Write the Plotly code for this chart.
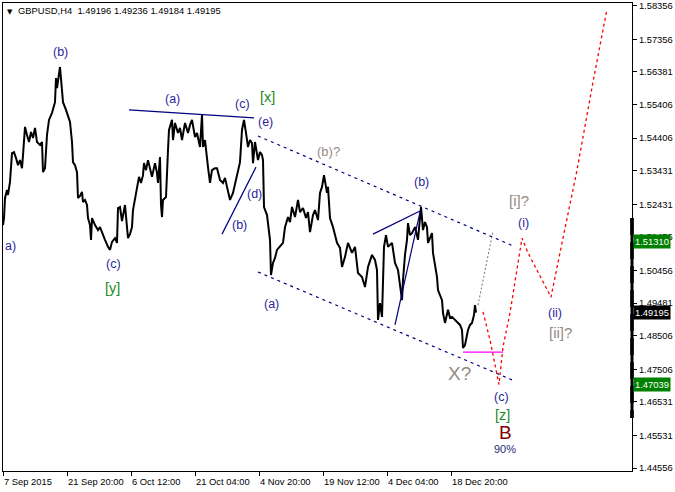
import plotly.graph_objects as go

# ---------------- data ----------------
bar_index = [0, 1, 2, 4, 5, 7, 9, 11, 13, 15, 17, 19, 20, 22, 24, 26, 28, 30, 32, 34, 37, 39, 40, 42, 44, 46, 49, 52, 53, 54,
             57, 59, 60, 63, 65, 67, 69, 70, 72, 74, 75, 77, 79, 80, 82, 84, 85, 87, 88, 89, 92, 95, 97, 99, 102, 105, 107, 109,
             112, 114, 115, 117, 119, 122, 124, 125, 127, 129, 130, 132, 134, 136, 138, 140, 141, 143, 145, 147, 149, 152, 154,
             155, 157, 158, 159, 160, 163, 165, 166, 169, 170, 172, 175, 177, 179, 182, 185, 187, 189, 192, 194, 197, 199, 200,
             202, 205, 207, 209, 212, 214, 217, 220, 222, 224, 227, 230, 232, 234, 237, 239, 241, 243, 245, 247, 249, 250, 252,
             255, 257, 259, 260, 261, 264, 267, 268, 270, 272, 274, 277, 280, 282, 285, 287, 289, 292, 295, 297, 300, 303, 305,
             307, 310, 312, 315, 317, 319, 321, 323, 324, 325, 327, 330, 332, 334, 337, 339, 342, 345, 347, 349, 352, 355, 359,
             362, 365, 369, 372, 374, 375, 377, 379, 381, 383, 385, 389, 392, 395, 397, 399, 400, 402, 404, 405, 407, 409, 412,
             415, 418, 420, 422, 424, 425, 427, 429, 430, 432, 434, 435, 437, 439, 440, 442, 445, 447, 449, 452, 455, 457, 459,
             460, 462, 463, 465, 467, 469, 471, 472, 473]
close_price = [1.5181, 1.5202, 1.5262, 1.5286, 1.5271, 1.5310, 1.5396, 1.5399, 1.5381, 1.5360, 1.5375, 1.5351, 1.5390,
               1.5474, 1.5450, 1.5429, 1.5459, 1.5441, 1.5471, 1.5429, 1.5420, 1.5429, 1.5339, 1.5351, 1.5450, 1.5495,
               1.5516, 1.5548, 1.5620, 1.5590, 1.5653, 1.5569, 1.5548, 1.5525, 1.5510, 1.5489, 1.5429, 1.5369, 1.5360,
               1.5339, 1.5262, 1.5268, 1.5280, 1.5250, 1.5256, 1.5241, 1.5202, 1.5181, 1.5137, 1.5202, 1.5181, 1.5166,
               1.5175, 1.5157, 1.5137, 1.5116, 1.5107, 1.5131, 1.5142, 1.5128, 1.5232, 1.5235, 1.5193, 1.5241, 1.5175,
               1.5142, 1.5154, 1.5175, 1.5226, 1.5256, 1.5292, 1.5325, 1.5307, 1.5330, 1.5366, 1.5345, 1.5375, 1.5345,
               1.5325, 1.5366, 1.5336, 1.5307, 1.5384, 1.5241, 1.5205, 1.5256, 1.5265, 1.5405, 1.5465, 1.5495, 1.5435,
               1.5486, 1.5456, 1.5471, 1.5435, 1.5486, 1.5456, 1.5480, 1.5495, 1.5444, 1.5456, 1.5414, 1.5510, 1.5414,
               1.5435, 1.5354, 1.5307, 1.5345, 1.5351, 1.5351, 1.5316, 1.5307, 1.5322, 1.5295, 1.5256, 1.5277, 1.5301,
               1.5325, 1.5369, 1.5465, 1.5495, 1.5456, 1.5414, 1.5435, 1.5426, 1.5366, 1.5429, 1.5375, 1.5399, 1.5390,
               1.5375, 1.5235, 1.5211, 1.5137, 1.5032, 1.5068, 1.5083, 1.5107, 1.5116, 1.5128, 1.5175, 1.5205, 1.5190,
               1.5235, 1.5205, 1.5256, 1.5220, 1.5232, 1.5202, 1.5220, 1.5160, 1.5211, 1.5226, 1.5196, 1.5277, 1.5295,
               1.5330, 1.5301, 1.5277, 1.5295, 1.5202, 1.5175, 1.5151, 1.5128, 1.5113, 1.5056, 1.5086, 1.5128, 1.5113,
               1.5098, 1.5116, 1.5038, 1.5026, 1.4996, 1.5056, 1.5092, 1.5077, 1.5047, 1.4898, 1.4948, 1.4907, 1.5116,
               1.5151, 1.5116, 1.5128, 1.5068, 1.5047, 1.5002, 1.4957, 1.5017, 1.5092, 1.5137, 1.5187, 1.5151, 1.5157,
               1.5175, 1.5137, 1.5235, 1.5166, 1.5190, 1.5175, 1.5128, 1.5142, 1.5157, 1.5098, 1.5062, 1.5026, 1.4987,
               1.4972, 1.4957, 1.4919, 1.4889, 1.4928, 1.4904, 1.4907, 1.4898, 1.4889, 1.4883, 1.4868, 1.4814, 1.4823,
               1.4838, 1.4868, 1.4883, 1.4889, 1.4913, 1.4942, 1.49195]

time_tick_bars = [0, 64, 128, 192, 256, 320, 384, 448]
time_tick_labels = ["7 Sep 2015", "21 Sep 20:00", "6 Oct 12:00", "21 Oct 04:00",
                    "4 Nov 20:00", "19 Nov 12:00", "4 Dec 04:00", "18 Dec 20:00"]
price_ticks = [1.58356, 1.57356, 1.56381, 1.55406, 1.54406, 1.53431, 1.52431, 1.51456,
               1.50456, 1.49481, 1.48506, 1.47506, 1.46531, 1.45531, 1.44556]

level_high = 1.51310
level_low = 1.47039
last_price = 1.49195
header = "GBPUSD,H4\u00a0\u00a01.49196 1.49236 1.49184 1.49195"

# forecast path (red dotted)
forecast_bars = [480, 487, 496, 500, 507, 519, 525, 548, 559, 574, 590, 604]
forecast_prices = [1.4922, 1.4838, 1.4705, 1.4817, 1.4919, 1.5142, 1.5098, 1.4966, 1.5128, 1.5345, 1.5608, 1.5826]
# grey dotted alternative
alt_bars = [475, 490]
alt_prices = [1.4942, 1.5163]
# channel lines (navy dotted)
upper_channel_bars = [255, 510]
upper_channel_prices = [1.5447, 1.5119]
lower_channel_bars = [255, 509]
lower_channel_prices = [1.5041, 1.4719]
# navy solid lines
solid_lines = [
    ([126, 251], [1.5525, 1.5501]),
    ([219, 253], [1.5154, 1.5354]),
    ([370, 417], [1.5154, 1.5223]),
    ([392, 417], [1.4883, 1.5220]),
]
# magenta level
magenta_bars = [460, 500]
magenta_prices = [1.4802, 1.4802]

# wave labels
wave_text = ["(b)", "(a)", "(c)", "(e)", "(d)", "(b)", "(c)", "(a)", "(b)", "(i)", "(ii)", "(c)", "a)"]
wave_bars = [57, 169, 239, 262, 251, 236, 110, 268, 418, 520, 552, 498, 0]
wave_prices = [1.5698, 1.5557, 1.5542, 1.5489, 1.5274, 1.5181, 1.5065, 1.4945, 1.5310, 1.5187, 1.4919, 1.4668, 1.5119]

green_text = ["[x]", "[y]", "[z]"]
green_bars = [264, 109, 499]
green_prices = [1.5563, 1.4993, 1.4614]

grey_text = ["(b)?", "[i]?", "[ii]?", "X?"]
grey_bars = [325, 516, 557, 456]
grey_prices = [1.5402, 1.5253, 1.4859, 1.4739]
grey_sizes = [13, 15, 15, 19]

big_text = ["B", "90%"]
big_bars = [502, 502]
big_prices = [1.4563, 1.4512]

# ---------------- figure ----------------
FONT = "Liberation Sans, Arial, sans-serif"
NAVY = "#000080"
LABEL = "#2a1f9a"

fig = go.Figure()

# horizontal levels
fig.add_hline(y=level_high, line=dict(color="#008000", width=1.3, dash="17px,7px"), layer="below")
fig.add_hline(y=level_low, line=dict(color="#008000", width=1.3, dash="17px,7px"), layer="below")
fig.add_hline(y=last_price, line=dict(color="#c0c0c0", width=1), layer="below")

fig.add_trace(go.Scatter(x=bar_index, y=close_price, mode="lines",
                         line=dict(color="black", width=2.0), hoverinfo="skip"))

for bx, py in solid_lines:
    fig.add_trace(go.Scatter(x=bx, y=py, mode="lines", line=dict(color=NAVY, width=1.2)))

fig.add_trace(go.Scatter(x=upper_channel_bars, y=upper_channel_prices, mode="lines",
                         line=dict(color=NAVY, width=1.2, dash="3px,4px")))
fig.add_trace(go.Scatter(x=lower_channel_bars, y=lower_channel_prices, mode="lines",
                         line=dict(color=NAVY, width=1.2, dash="3px,4px")))
fig.add_trace(go.Scatter(x=alt_bars, y=alt_prices, mode="lines",
                         line=dict(color="#808080", width=1.1, dash="2px,2px")))
fig.add_trace(go.Scatter(x=forecast_bars, y=forecast_prices, mode="lines",
                         line=dict(color="#ff0000", width=1.3, dash="3px,3px")))
fig.add_trace(go.Scatter(x=magenta_bars, y=magenta_prices, mode="lines",
                         line=dict(color="#ff00ff", width=1.3)))

annotations = []
for t, bx, py in zip(wave_text, wave_bars, wave_prices):
    annotations.append(dict(x=bx, y=py, text=t, showarrow=False,
                            xanchor="left" if t == "a)" else "center",
                            font=dict(family=FONT, size=12.5, color=LABEL)))
for t, bx, py in zip(green_text, green_bars, green_prices):
    annotations.append(dict(x=bx, y=py, text=t, showarrow=False,
                            font=dict(family=FONT, size=14.5, color="#1f8a1f")))
for t, bx, py, s in zip(grey_text, grey_bars, grey_prices, grey_sizes):
    annotations.append(dict(x=bx, y=py, text=t, showarrow=False,
                            font=dict(family=FONT, size=s, color="#948a86")))
annotations.append(dict(x=big_bars[0], y=big_prices[0], text=big_text[0], showarrow=False,
                        font=dict(family=FONT, size=19, color="#800000")))
annotations.append(dict(x=big_bars[1], y=big_prices[1], text=big_text[1], showarrow=False,
                        font=dict(family=FONT, size=11, color="#2a2a7a")))

# time labels, left aligned at the tick
for bx, lab in zip(time_tick_bars, time_tick_labels):
    annotations.append(dict(x=bx, y=0, xref="x", yref="paper", text=lab, showarrow=False,
                            xanchor="left", yanchor="top", xshift=-1, yshift=-3,
                            font=dict(family=FONT, size=9.4, color="black")))

# highlighted price labels
for val, bg in [(level_high, "#008000"), (last_price, "#000000"), (level_low, "#008000")]:
    annotations.append(dict(x=1, xref="paper", y=val, yref="y", text=f"{val:.5f}", showarrow=False,
                            xanchor="left", yanchor="middle", xshift=1, bgcolor=bg, borderpad=1,
                            font=dict(family=FONT, size=9.4, color="white")))

# header
annotations.append(dict(x=0, y=1, xref="paper", yref="paper", text="\u25bc", showarrow=False,
                        xanchor="left", yanchor="top", xshift=2, yshift=-3,
                        font=dict(family="DejaVu Sans", size=7, color="black")))
annotations.append(dict(x=0, y=1, xref="paper", yref="paper", text=header, showarrow=False,
                        xanchor="left", yanchor="top", xshift=13, yshift=0,
                        font=dict(family=FONT, size=9.4, color="black")))

fig.update_layout(
    width=675, height=492,
    margin=dict(l=3, r=43, t=3, b=21, autoexpand=False),
    paper_bgcolor="white", plot_bgcolor="white",
    showlegend=False,
    annotations=annotations,
    shapes=[dict(type="line", xref="paper", x0=1, x1=1, yref="y", y0=1.5202, y1=1.4605,
                 line=dict(color="black", width=3))],
    xaxis=dict(range=[0, 629], tickvals=time_tick_bars, showticklabels=False,
               ticks="outside", ticklen=4, tickcolor="black", automargin=False,
               showline=True, linecolor="black", linewidth=1, mirror=True,
               showgrid=False, zeroline=False, fixedrange=True),
    yaxis=dict(range=[1.44469, 1.58440], side="right", tickvals=price_ticks,
               ticktext=[f"{v:.5f}" for v in price_ticks], automargin=False,
               ticks="outside", ticklen=4, tickcolor="black",
               tickfont=dict(family=FONT, size=9.4, color="black"),
               showline=True, linecolor="black", linewidth=1, mirror=True,
               showgrid=False, zeroline=False, fixedrange=True),
)

fig.write_html("out.html", config={"displayModeBar": False},
               post_script="document.body.style.margin='0px';document.body.style.overflow='hidden';")
